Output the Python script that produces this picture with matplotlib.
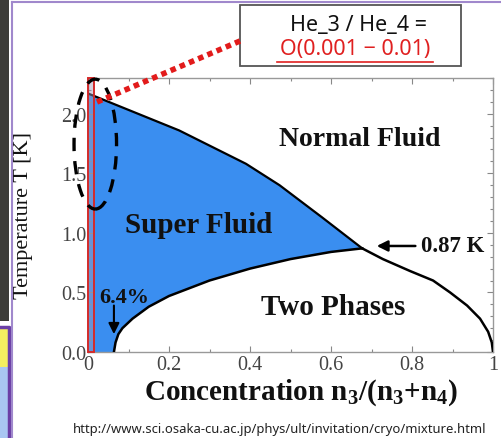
import matplotlib
matplotlib.use('Agg')
import matplotlib.pyplot as plt
from matplotlib.patches import Ellipse, Rectangle
from matplotlib.lines import Line2D
from matplotlib.ticker import MultipleLocator

plt.rcParams['mathtext.fontset'] = 'custom'
plt.rcParams['mathtext.bf'] = 'Liberation Serif:bold'
plt.rcParams['mathtext.rm'] = 'Liberation Serif:bold'

# lambda line (superfluid / normal fluid boundary)
lam_x = [0.0, 0.225, 0.39, 0.473, 0.578, 0.677]
lam_T = [2.17, 1.86, 1.58, 1.40, 1.13, 0.87]

# phase separation curve, left branch (He4 rich side)
sep_left_x = [0.064, 0.068, 0.075, 0.085, 0.11, 0.15, 0.2, 0.3, 0.4, 0.5, 0.6, 0.677]
sep_left_T = [0.0, 0.08, 0.15, 0.2, 0.28, 0.38, 0.47, 0.6, 0.70, 0.78, 0.84, 0.87]

# phase separation curve, right branch (He3 rich side)
sep_right_x = [0.677, 0.728, 0.795, 0.852, 0.894, 0.936, 0.968, 0.988, 0.997, 1.0]
sep_right_T = [0.87, 0.78, 0.68, 0.60, 0.50, 0.39, 0.28, 0.17, 0.08, 0.0]

xticks = [0, 0.2, 0.4, 0.6, 0.8, 1.0]
xticklabels = ['0', '0.2', '0.4', '0.6', '0.8', '1']
yticks = [0.0, 0.5, 1.0, 1.5, 2.0]
yticklabels = ['0.0', '0.5', '1.0', '1.5', '2.0']

W, H = 501, 439


def fx(x):
    return x / W


def fy(y):
    return 1 - y / H


fig = plt.figure(figsize=(W / 100, H / 100), dpi=100)
fig.patch.set_facecolor('white')

# slide decorations
fig.add_artist(Rectangle((0, fy(322)), fx(9), 1 - fy(322), transform=fig.transFigure,
                         fc='#3c3c38', ec='none'))
fig.add_artist(Rectangle((0, fy(368)), fx(9), fy(330) - fy(368), transform=fig.transFigure,
                         fc='#f4ee60', ec='none'))
fig.add_artist(Rectangle((0, 0), fx(9), fy(368), transform=fig.transFigure,
                         fc='#a9c6f2', ec='none'))
fig.add_artist(Line2D([fx(0), fx(9), fx(9)], [fy(328), fy(328), 0], transform=fig.transFigure,
                      color='#6b3fa6', lw=2.5))
fig.add_artist(Line2D([fx(12), fx(12)], [0, fy(3)], transform=fig.transFigure,
                      color='#a088cc', lw=1.5))
fig.add_artist(Line2D([fx(12), 1], [fy(3), fy(3)], transform=fig.transFigure,
                      color='#a088cc', lw=1.5))

ax = fig.add_axes([fx(88), fy(353), fx(493) - fx(88), fy(79) - fy(353)])
ax.set_xlim(0, 1)
ax.set_ylim(0, 2.3)

# superfluid region
poly_x = lam_x + sep_left_x[::-1] + [0.0]
poly_T = lam_T + sep_left_T[::-1] + [0.0]
ax.fill(poly_x, poly_T, color='#3a8ef0', lw=0, zorder=1)

ax.plot(lam_x, lam_T, color='black', lw=1.6, zorder=3)
ax.plot(sep_left_x, sep_left_T, color='black', lw=1.8, zorder=3)
ax.plot(sep_right_x, sep_right_T, color='black', lw=1.8, zorder=3)

serif = 'Liberation Serif'
ax.text(0.67, 1.79, 'Normal Fluid', family=serif, weight='bold', fontsize=20,
        ha='center', va='center', color='#111')
ax.text(0.272, 1.07, 'Super Fluid', family=serif, weight='bold', fontsize=21,
        ha='center', va='center', color='#111')
ax.text(0.605, 0.38, 'Two Phases', family=serif, weight='bold', fontsize=21,
        ha='center', va='center', color='#111')
ax.annotate('0.87 K', xy=(0.713, 0.89), xytext=(0.822, 0.89), family=serif,
            weight='bold', fontsize=16.5, ha='left', va='center', color='#111',
            arrowprops=dict(arrowstyle='-|>', color='black', lw=1.8, shrinkA=2, shrinkB=0,
                            mutation_scale=16))
ax.text(0.09, 0.465, '6.4%', family=serif, weight='bold', fontsize=16,
        ha='center', va='center', color='#111')
ax.annotate('', xy=(0.064, 0.15), xytext=(0.064, 0.39),
            arrowprops=dict(arrowstyle='-|>', color='black', lw=1.5, shrinkA=0, shrinkB=0,
                            mutation_scale=16))

# highlight of the small He3 fraction
ax.add_patch(Rectangle((0.0, 0.0), 0.016, 2.3, fc=(0.62, 0.6, 0.72, 0.45), ec='#d42a2a',
                       lw=1.4, zorder=4, clip_on=False))
ax.add_patch(Ellipse((0.018, 1.745), 0.105, 1.09, fill=False, ec='black', lw=2.4,
                     ls=(0, (4, 3)), zorder=5, clip_on=False))

ax.set_xticks(xticks)
ax.set_xticklabels(xticklabels)
ax.set_yticks(yticks)
ax.set_yticklabels(yticklabels)
ax.xaxis.set_minor_locator(MultipleLocator(0.1))
ax.yaxis.set_minor_locator(MultipleLocator(0.1))
ax.tick_params(which='both', direction='in', top=True, right=True, color='#888')
ax.tick_params(which='major', length=4, width=0.8)
ax.tick_params(which='minor', length=2.5, width=0.8)
ax.tick_params(axis='x', pad=2)
ax.tick_params(axis='y', pad=1)
for lab in ax.get_xticklabels() + ax.get_yticklabels():
    lab.set_family(serif)
    lab.set_fontsize(14.5)
    lab.set_color('#444')
for sp in ax.spines.values():
    sp.set_color('#999')
    sp.set_linewidth(1.0)

ax.set_xlabel(r'Concentration n$_\mathbf{3}$/(n$_\mathbf{3}$+n$_\mathbf{4}$)',
              family=serif, weight='bold', fontsize=21, color='#111')
ax.xaxis.set_label_coords(0.526, -0.09)
ax.set_ylabel('Temperature T [K]', family=serif, fontsize=16, color='#111')
ax.yaxis.set_label_coords(-0.135, 0.5)

# callout box
fig.add_artist(Rectangle((fx(240), fy(67)), fx(461) - fx(240), fy(6) - fy(67),
                         transform=fig.transFigure, fc='white', ec='#555', lw=1.3))
fig.text(fx(358), fy(26), 'He_3 / He_4 =', family='Noto Sans', fontsize=15.5,
         ha='center', va='center', color='#111')
fig.text(fx(355), fy(50), 'O(0.001 \u2212 0.01)', family='Noto Sans', fontsize=15.5,
         ha='center', va='center', color='#e02020')
fig.add_artist(Line2D([fx(277), fx(433)], [fy(63), fy(63)], transform=fig.transFigure,
                      color='#e02020', lw=1.2))
fig.add_artist(Line2D([fx(97), fx(240)], [fy(103), fy(42)], transform=fig.transFigure,
                      color='#e21b1b', lw=4, ls=(0, (1, 0.8)), zorder=10))

fig.text(fx(280), fy(430), 'http://www.sci.osaka-cu.ac.jp/phys/ult/invitation/cryo/mixture.html',
         family='Noto Sans', fontsize=9.4, ha='center', va='center', color='#222')

fig.savefig('out.png', dpi=100)
